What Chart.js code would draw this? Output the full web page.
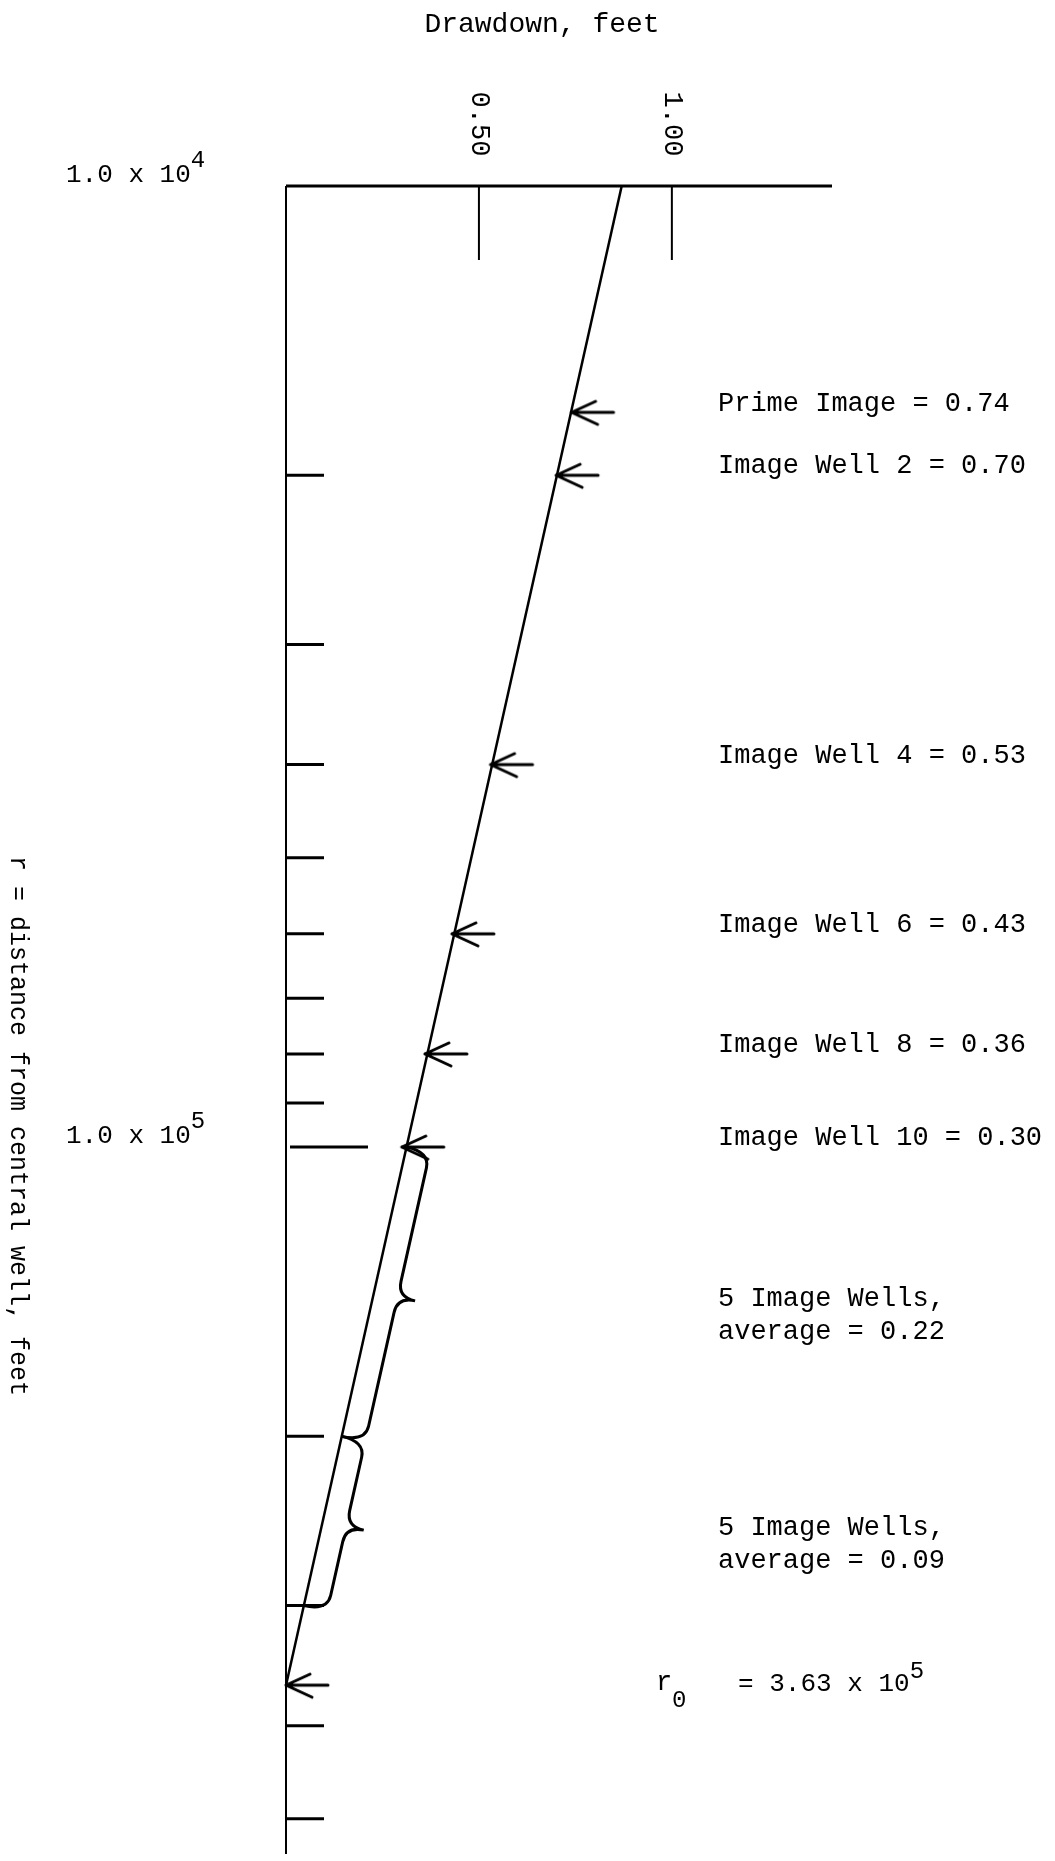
<!DOCTYPE html>
<html>
<head>
<meta charset="utf-8">
<script src="https://cdn.jsdelivr.net/npm/chart.js@4.4.1/dist/chart.umd.min.js"></script>
<style>
body { margin: 0; background: #fff; }
</style>
</head>
<body>
<canvas id="myChart" width="1055" height="1861"></canvas>
<script>
// drawdown (feet) across, distance r (feet) down on a log axis
var lineR = [1.0e4, 3.63e5];
var lineDrawdown = [0.87, 0];

var wellNames = ["Prime Image", "Image Well 2", "Image Well 4", "Image Well 6", "Image Well 8", "Image Well 10"];
var wellR = [1.72e4, 2e4, 4e4, 6e4, 8e4, 1e5];
var wellDrawdown = [0.74, 0.70, 0.53, 0.43, 0.36, 0.30];

var groupR = [[1e5, 2e5], [2e5, 3e5]];
var groupCount = [5, 5];
var groupAverage = [0.22, 0.09];

var r0 = 3.63e5;

var xTicks = [0.50, 1.00];
var yTicks = [2e4, 3e4, 4e4, 5e4, 6e4, 7e4, 8e4, 9e4, 1e5, 2e5, 3e5, 4e5, 5e5];
var yLabelValues = [1e4, 1e5];

var MONO = "'Liberation Mono', 'DejaVu Sans Mono', monospace";

function makeArrow(){
	var c = document.createElement("canvas");
	c.width = 124;
	c.height = 40;
	var g = c.getContext("2d");
	g.strokeStyle = "#000";
	g.lineWidth = 3;
	g.lineCap = "round";
	g.beginPath();
	g.moveTo(62, 20); g.lineTo(104, 20);
	g.moveTo(62, 20); g.lineTo(86, 9);
	g.moveTo(62, 20); g.lineTo(88, 32);
	g.stroke();
	return c;
}

function lineAt(r){
	var t = (Math.log(r) - Math.log(lineR[0])) / (Math.log(lineR[1]) - Math.log(lineR[0]));
	return lineDrawdown[0] + t * (lineDrawdown[1] - lineDrawdown[0]);
}

function brace(ctx, ax, ay, bx, by){
	var dx = bx - ax, dy = by - ay;
	var L = Math.sqrt(dx * dx + dy * dy);
	var w = 24, t = 18, q = 16;
	ctx.save();
	ctx.translate(ax, ay);
	ctx.rotate(Math.atan2(dy, dx) - Math.PI / 2);
	ctx.beginPath();
	ctx.moveTo(0, 0);
	ctx.quadraticCurveTo(w, 0, w, q);
	ctx.lineTo(w, L / 2 - q);
	ctx.quadraticCurveTo(w, L / 2, w + t, L / 2);
	ctx.quadraticCurveTo(w, L / 2, w, L / 2 + q);
	ctx.lineTo(w, L - q);
	ctx.quadraticCurveTo(w, L, 0, L);
	ctx.stroke();
	ctx.restore();
}

var paper = {
	id: "paper",
	afterDraw: function(chart){
		var ctx = chart.ctx, a = chart.chartArea;
		var xs = chart.scales.x, ys = chart.scales.y;
		ctx.save();
		ctx.strokeStyle = "#000";
		ctx.fillStyle = "#000";

		// axes
		ctx.lineWidth = 3;
		ctx.beginPath(); ctx.moveTo(a.left, a.top); ctx.lineTo(a.right, a.top); ctx.stroke();
		ctx.lineWidth = 2;
		ctx.beginPath(); ctx.moveTo(a.left, a.top); ctx.lineTo(a.left, a.bottom); ctx.stroke();

		// drawdown ticks, hanging down from the top axis
		xTicks.forEach(function(v){
			var px = xs.getPixelForValue(v);
			ctx.lineWidth = 2;
			ctx.beginPath(); ctx.moveTo(px, a.top); ctx.lineTo(px, a.top + 74); ctx.stroke();
			ctx.save();
			ctx.translate(px, a.top - 62);
			ctx.rotate(Math.PI / 2);
			ctx.font = "27px " + MONO;
			ctx.textAlign = "center";
			ctx.textBaseline = "middle";
			ctx.fillText(v.toFixed(2), 0, 0);
			ctx.restore();
		});

		// distance ticks along the left axis
		ctx.lineWidth = 3;
		yTicks.forEach(function(v){
			var py = ys.getPixelForValue(v);
			var major = v === 1e5;
			ctx.beginPath();
			ctx.moveTo(a.left + (major ? 4 : 0), py);
			ctx.lineTo(a.left + (major ? 82 : 38), py);
			ctx.stroke();
		});

		ctx.textAlign = "left";
		ctx.textBaseline = "middle";
		yLabelValues.forEach(function(v){
			var e = Math.round(Math.log10(v));
			var py = ys.getPixelForValue(v) - 11;
			var s = (v / Math.pow(10, e)).toFixed(1) + " x 10";
			ctx.font = "26px " + MONO;
			ctx.fillText(s, 66, py);
			var w = ctx.measureText(s).width;
			ctx.font = "24px " + MONO;
			ctx.fillText(String(e), 66 + w, py - 14);
		});

		// titles
		ctx.font = "28px " + MONO;
		ctx.textAlign = "center";
		ctx.fillText("Drawdown, feet", 542, 25);
		ctx.save();
		ctx.translate(18, 1126);
		ctx.rotate(Math.PI / 2);
		ctx.font = "25px " + MONO;
		ctx.fillText("r = distance from central well, feet", 0, 0);
		ctx.restore();

		// well labels
		var labelX = 718;
		ctx.textAlign = "left";
		ctx.font = "27px " + MONO;
		wellNames.forEach(function(n, i){
			var py = ys.getPixelForValue(wellR[i]) - 9;
			ctx.fillText(n + " = " + wellDrawdown[i].toFixed(2), labelX, py);
		});

		// braces for the averaged groups
		ctx.lineWidth = 3;
		groupR.forEach(function(g, i){
			var ax = xs.getPixelForValue(lineAt(g[0])), ay = ys.getPixelForValue(g[0]);
			var bx = xs.getPixelForValue(lineAt(g[1])), by = ys.getPixelForValue(g[1]);
			brace(ctx, ax, ay, bx, by);
			var mid = (ay + by) / 2;
			ctx.font = "27px " + MONO;
			ctx.fillText(groupCount[i] + " Image Wells,", labelX, mid + 7);
			ctx.fillText("average = " + groupAverage[i].toFixed(2), labelX, mid + 40);
		});

		// r0 label
		var ry = ys.getPixelForValue(r0);
		var e0 = Math.floor(Math.log10(r0));
		ctx.font = "27px " + MONO;
		ctx.fillText("r", 656, ry - 2);
		ctx.font = "24px " + MONO;
		ctx.fillText("0", 672, ry + 15);
		ctx.font = "26px " + MONO;
		var s0 = "= " + (r0 / Math.pow(10, e0)).toFixed(2) + " x 10";
		ctx.fillText(s0, 738, ry - 1);
		var w0 = ctx.measureText(s0).width;
		ctx.font = "24px " + MONO;
		ctx.fillText(String(e0), 738 + w0, ry - 14);

		ctx.restore();
	}
};

var arrowImg = makeArrow();

var linePoints = [];
for (var i = 0; i < lineR.length; i++){
	linePoints.push({ x: lineDrawdown[i], y: lineR[i] });
}
var arrowPoints = [];
for (var j = 0; j < wellR.length; j++){
	arrowPoints.push({ x: wellDrawdown[j], y: wellR[j] });
}
arrowPoints.push({ x: 0, y: r0 });

var ctx = document.getElementById("myChart");
var myChart = new Chart(ctx, {
	type: "scatter",
	data: {
		datasets: [
			{
				type: "line",
				data: linePoints,
				borderColor: "#000",
				borderWidth: 2.5,
				pointRadius: 0,
				clip: false
			}, {
				data: arrowPoints,
				pointStyle: arrowImg,
				pointRadius: 6,
				clip: false
			}
		]
	},
	options: {
		responsive: false,
		animation: false,
		layout: { padding: { left: 286, top: 186, right: 223, bottom: 0 } },
		plugins: { legend: { display: false }, tooltip: { enabled: false } },
		scales: {
			x: { type: "linear", min: 0, max: 1.415, display: false },
			y: { type: "logarithmic", reverse: true, min: 1e4, max: 5.44e5, display: false }
		}
	},
	plugins: [paper]
});
</script>
</body>
</html>
